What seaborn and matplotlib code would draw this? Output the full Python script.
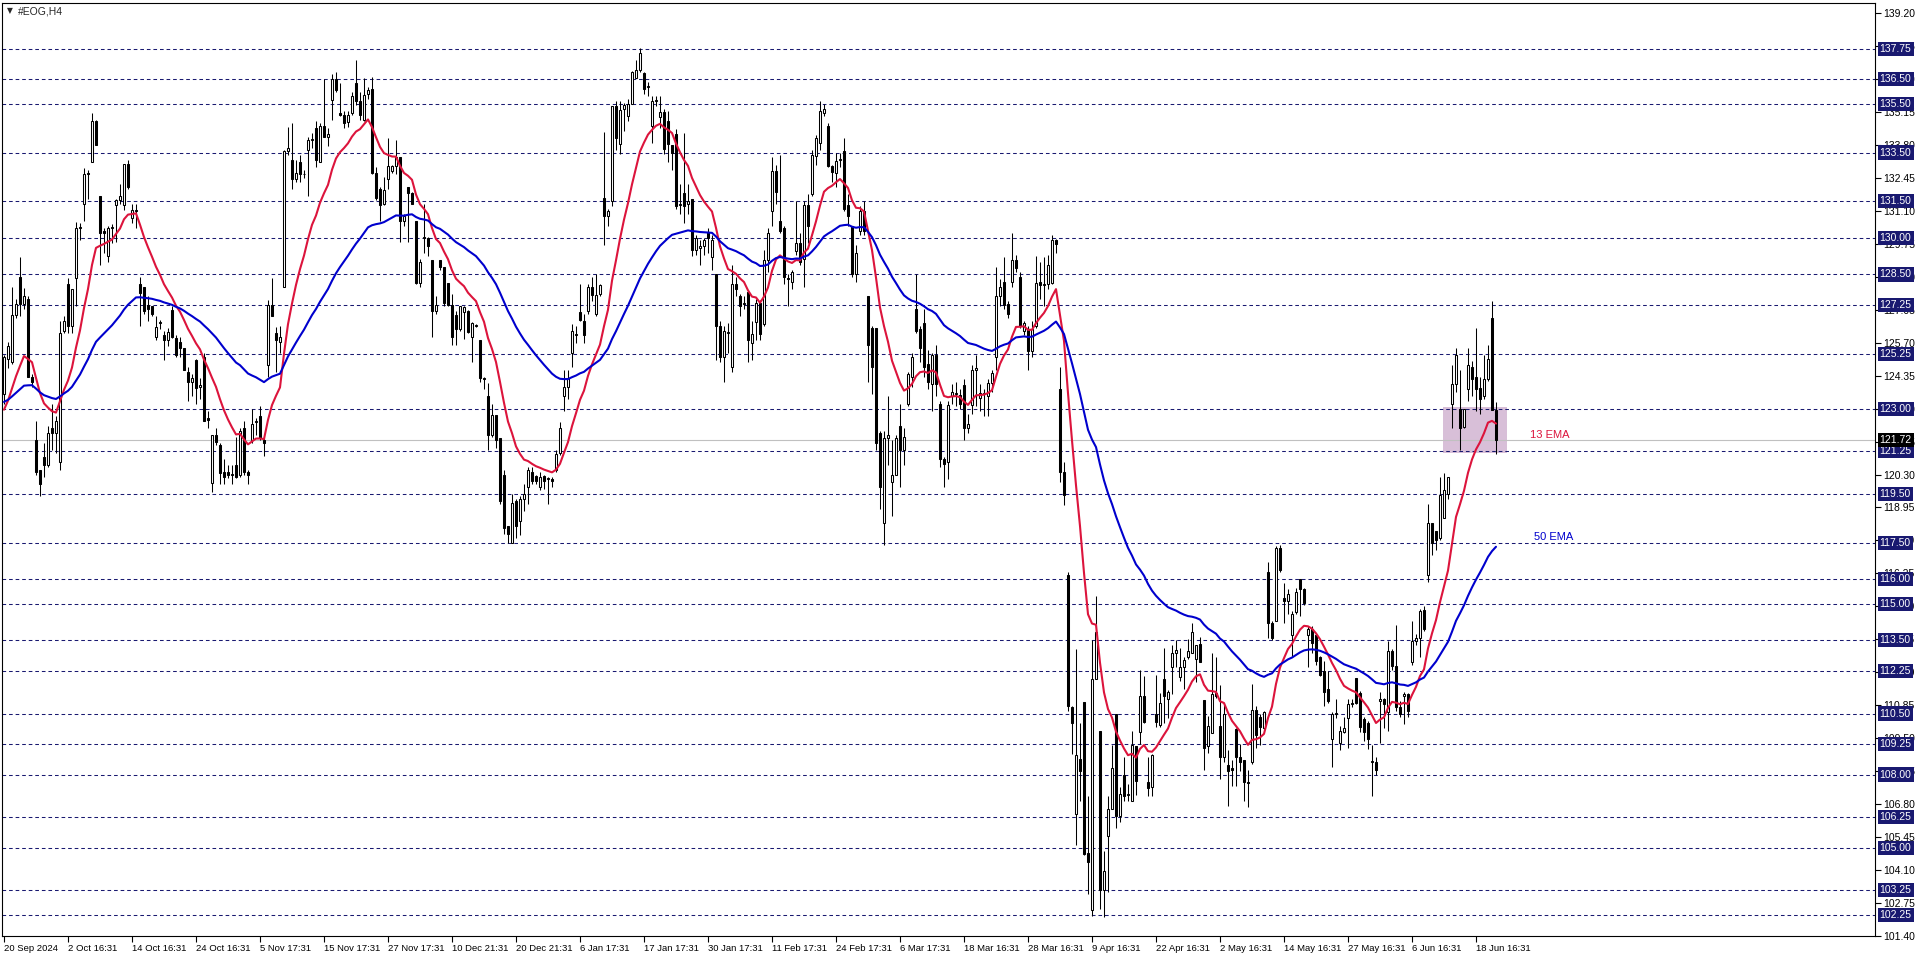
import numpy as np
import pandas as pd
import matplotlib
matplotlib.use("Agg")
import matplotlib.pyplot as plt
from matplotlib.patches import Rectangle
import seaborn as sns

# ==========================================
# DATA: #EOG H4 candles, bar index 0..373
# ==========================================
opens = [
    123.6, 125.05, 124.9, 126.85, 128.4, 127.3, 127.5, 124.3, 121.7, 120.5,
    121.0, 120.7, 122.2, 122.0, 120.8, 126.2, 128.1, 126.4, 128.35, 130.4,
    131.4, 132.65, 133.1, 134.8, 131.7, 130.3, 129.25, 130.4, 131.35, 131.55,
    131.35, 133.05, 130.8, 131.1, 128.1, 128.0, 127.25, 127.2, 125.95, 126.5,
    126.0, 125.8, 127.05, 125.9, 125.75, 125.5, 124.5, 124.1, 125.0, 123.9,
    125.1, 122.6, 119.95, 121.9, 121.5, 120.4, 120.4, 120.3, 120.7, 120.3,
    122.2, 120.4, 121.7, 122.45, 122.7, 121.7, 124.8, 127.25, 126.1, 125.75,
    128.0, 133.55, 133.2, 132.4, 133.1, 132.6, 133.6, 134.0, 134.5, 133.1,
    134.6, 134.15, 135.65, 136.5, 135.1, 135.05, 134.75, 135.1, 136.35, 135.6,
    134.85, 135.9, 136.1, 132.65, 132.0, 131.4, 132.4, 132.75, 132.95, 133.3,
    130.7, 132.1, 131.85, 130.7, 128.15, 130.0, 130.0, 129.1, 127.0, 129.1,
    128.8, 128.15, 127.25, 126.85, 126.25, 126.95, 127.0, 125.95, 126.4, 125.8,
    124.25, 123.5, 121.9, 122.75, 121.8, 120.3, 118.2, 117.5, 119.2, 118.4,
    119.3, 119.8, 120.4, 120.25, 119.8, 120.25, 120.1, 120.1, 120.5, 121.2,
    123.5, 123.9, 125.3, 126.0, 126.95, 126.6, 127.0, 128.0, 126.9, 127.7,
    131.65, 130.9, 131.5, 135.4, 133.85, 135.3, 135.0, 135.5, 136.55, 136.9,
    136.75, 136.2, 134.6, 135.6, 134.95, 135.15, 134.8, 133.8, 134.25, 131.35,
    131.85, 131.4, 131.6, 129.5, 129.6, 129.65, 130.25, 129.2, 128.5, 126.4,
    125.1, 126.1, 124.7, 128.1, 127.6, 127.3, 127.8, 125.7, 126.55, 127.35,
    126.45, 129.1, 131.1, 132.75, 130.7, 130.4, 128.35, 128.2, 129.45, 129.8,
    129.15, 131.35, 131.8, 133.35, 133.9, 135.1, 134.6, 132.95, 132.65, 133.2,
    133.55, 131.35, 130.5, 128.5, 130.3, 131.1, 127.6, 126.3, 126.3, 122.0,
    118.3, 121.8, 120.0, 120.3, 122.3, 121.3, 123.2, 124.3, 127.1, 126.25,
    126.5, 124.85, 124.0, 125.2, 123.2, 120.95, 120.8, 123.5, 123.6, 123.55,
    123.98, 122.2, 123.15, 124.6, 123.45, 123.6, 123.5, 124.05, 125.1, 127.6,
    128.2, 127.3, 128.2, 129.1, 128.4, 126.2, 126.25, 125.35, 126.4, 128.2,
    128.05, 128.1, 128.15, 129.9, 123.8, 120.4, 116.2, 110.75, 106.4, 108.65,
    110.97, 104.8, 102.45, 111.9, 109.8, 103.25, 105.5, 106.6, 110.5, 106.3,
    108.0, 107.15, 106.9, 109.15, 109.75, 111.2, 107.7, 107.5, 110.5, 110.05,
    111.9, 111.1, 112.4, 113.0, 112.0, 112.4, 112.8, 113.0, 112.75, 113.35,
    111.05, 109.15, 109.7, 111.35, 110.0, 108.7, 108.4, 108.25, 109.85, 108.7,
    108.6, 107.7, 108.5, 110.65, 110.35, 109.9, 116.3, 114.2, 114.3, 117.3,
    115.25, 115.1, 113.7, 114.65, 116.0, 115.6, 113.7, 113.95, 113.7, 112.8,
    112.25, 111.5, 109.45, 110.5, 109.3, 109.75, 110.3, 110.9, 111.97, 111.36,
    110.27, 110.13, 108.5, 108.5, 111.0, 111.1, 110.55, 113.06, 112.45, 110.75,
    111.2, 111.3, 112.6, 113.47, 113.6, 114.76, 116.2, 118.3, 117.97, 117.7,
    118.5, 119.5, 123.2, 124.0, 123.0, 122.25, 123.8, 124.7, 124.3, 123.84,
    123.5, 124.2, 126.7, 122.93,
]
highs = [
    125.2, 125.75, 128.0, 127.5, 129.2, 127.95, 127.6, 124.4, 122.5, 120.5,
    121.6, 122.3, 123.2, 122.7, 126.6, 126.8, 128.35, 127.9, 130.65, 130.6,
    132.85, 132.8, 135.1, 134.85, 131.7, 130.4, 130.5, 130.55, 131.6, 132.2,
    133.05, 133.2, 131.4, 131.4, 128.4, 128.0, 127.6, 127.2, 126.8, 126.65,
    126.2, 126.3, 127.2, 126.0, 125.95, 125.5, 124.7, 124.4, 125.05, 124.25,
    125.3, 122.9, 121.9, 122.2, 121.6, 120.95, 120.7, 120.7, 121.85, 122.2,
    122.5, 120.5, 123.0, 122.6, 123.1, 121.85, 127.45, 128.35, 126.35, 126.4,
    133.6, 134.55, 134.7, 133.2, 133.4, 132.8, 134.15, 134.3, 134.8, 134.7,
    136.5, 134.5, 136.7, 136.8, 136.35, 135.2, 135.2, 136.0, 137.3, 136.0,
    136.55, 136.2, 136.6, 132.9, 132.1, 132.5, 134.1, 133.0, 134.0, 133.3,
    131.0, 132.1, 131.9, 130.7, 129.15, 131.4, 130.05, 129.1, 127.6, 129.1,
    128.8, 128.15, 127.7, 127.0, 127.2, 127.2, 127.05, 126.55, 126.45, 125.8,
    124.3, 124.05, 123.2, 122.75, 121.8, 120.5, 118.2, 119.5, 119.3, 119.4,
    119.9, 120.6, 120.6, 120.3, 120.4, 120.3, 120.2, 120.2, 121.3, 122.45,
    124.6, 124.6, 126.45, 126.4, 128.1, 126.9, 128.1, 128.4, 128.5, 128.1,
    134.35, 131.2, 135.4, 135.6, 135.6, 135.55, 135.7, 136.85, 137.3, 137.8,
    136.8, 136.4, 135.8, 135.8, 135.8, 135.3, 135.2, 133.8, 134.45, 132.2,
    134.3, 132.2, 131.6, 130.1, 129.9, 130.0, 130.4, 130.1, 128.5, 126.6,
    126.4, 126.5, 128.9, 128.4, 127.7, 127.6, 127.8, 126.6, 127.5, 127.45,
    129.5, 130.4, 133.3, 133.0, 133.4, 130.5, 128.5, 128.7, 131.5, 130.2,
    131.5, 131.8, 133.6, 134.2, 135.6, 135.5, 134.7, 133.0, 133.5, 133.5,
    134.1, 131.8, 130.5, 129.7, 131.3, 131.5, 127.6, 126.4, 126.3, 122.1,
    122.1, 123.5, 121.7, 121.9, 123.2, 122.2, 124.5, 125.3, 128.5, 126.4,
    127.1, 125.4, 125.3, 125.6, 123.3, 121.0, 123.3, 124.0, 124.1, 123.8,
    124.2, 122.8, 124.8, 125.2, 124.0, 123.8, 124.2, 124.6, 128.8, 128.3,
    129.2, 127.4, 130.2, 129.3, 128.6, 126.6, 126.4, 126.6, 129.25, 129.0,
    129.2, 129.3, 130.1, 129.95, 124.7, 120.8, 116.3, 110.8, 113.15, 110.1,
    110.97, 107.1, 113.5, 115.3, 109.8, 104.85, 107.1, 109.2, 110.5, 107.5,
    108.7, 107.6, 109.8, 109.15, 112.3, 112.05, 108.7, 108.85, 112.1, 111.35,
    113.2, 111.45, 113.3, 113.5, 113.2, 112.8, 113.55, 114.2, 113.3, 113.65,
    111.05, 110.4, 113.0, 112.8, 111.65, 110.95, 109.0, 108.6, 109.9, 109.25,
    108.6, 108.2, 111.7, 110.8, 110.5, 110.6, 116.7, 114.3, 117.35, 117.4,
    115.85, 115.6, 114.7, 115.65, 116.0, 115.65, 114.1, 114.1, 113.75, 112.85,
    112.65, 112.25, 110.55, 111.1, 110.0, 110.35, 111.1, 111.1, 111.97, 111.43,
    110.34, 110.2, 109.2, 108.7, 111.4, 111.15, 113.47, 113.13, 114.15, 111.0,
    111.4, 111.35, 114.3, 113.75, 114.8, 114.9, 119.1, 118.3, 118.0, 120.2,
    120.35, 120.2, 124.77, 125.5, 124.6, 123.0, 125.5, 124.97, 126.3, 124.3,
    125.2, 125.6, 127.4, 123.27,
]
lows = [
    123.2, 124.65, 124.85, 126.7, 126.8, 127.1, 124.3, 123.9, 120.3, 119.4,
    120.2, 120.6, 121.3, 121.2, 120.5, 126.1, 126.1, 126.1, 127.2, 129.9,
    130.7, 131.6, 133.1, 133.8, 128.9, 129.4, 129.0, 129.8, 129.85, 131.4,
    131.15, 132.0, 130.6, 130.4, 126.4, 126.9, 126.6, 126.8, 125.8, 126.25,
    125.0, 125.55, 125.9, 125.1, 125.1, 124.6, 123.3, 123.5, 123.2, 123.4,
    122.5, 122.2, 119.6, 121.5, 119.9, 119.9, 120.15, 119.9, 120.15, 120.2,
    120.3, 119.9, 121.6, 121.9, 121.7, 121.05, 124.3, 126.8, 124.5, 125.3,
    128.0, 133.4, 132.0, 132.3, 132.3, 132.45, 131.7, 133.7, 132.9, 133.1,
    134.15, 133.75, 134.85, 136.0, 135.0, 134.5, 134.55, 135.05, 135.45, 134.85,
    134.8, 135.7, 132.6, 131.55, 130.7, 131.35, 132.0, 132.65, 132.6, 129.85,
    130.5, 129.85, 131.4, 128.1, 128.0, 129.4, 129.25, 125.95, 126.9, 128.7,
    127.2, 127.2, 125.6, 125.6, 126.2, 125.85, 126.1, 124.9, 126.35, 124.1,
    123.8, 121.3, 121.85, 121.4, 119.1, 117.85, 117.5, 117.5, 117.7, 117.8,
    118.8, 119.1, 119.9, 119.9, 119.65, 119.7, 119.1, 119.8, 120.4, 121.1,
    122.9, 123.4, 124.7, 125.7, 126.6, 125.7, 126.9, 127.4, 126.8, 127.6,
    129.7, 130.5, 131.3, 133.6, 133.45, 134.4, 134.8, 135.5, 136.55, 136.8,
    135.9, 135.8, 133.9, 135.4, 134.5, 133.45, 133.1, 132.8, 131.2, 131.0,
    130.6, 131.0, 129.25, 129.3, 128.9, 129.3, 129.4, 128.7, 125.0, 124.9,
    124.1, 125.3, 124.5, 127.6, 126.8, 127.1, 124.9, 125.0, 125.8, 125.8,
    126.4, 128.6, 130.5, 131.4, 130.2, 128.1, 127.2, 127.9, 129.3, 128.9,
    128.0, 129.8, 131.7, 133.0, 133.6, 135.0, 132.9, 132.3, 132.1, 132.9,
    131.1, 130.5, 128.4, 128.2, 130.1, 130.1, 124.1, 123.6, 121.3, 118.9,
    117.4, 120.7, 118.6, 120.3, 119.8, 120.7, 123.1, 123.9, 126.1, 124.9,
    124.3, 123.8, 122.9, 123.5, 120.6, 119.8, 120.1, 123.2, 123.1, 123.0,
    121.7, 122.0, 122.8, 123.1, 122.9, 122.7, 122.7, 123.7, 124.6, 127.2,
    127.1, 126.7, 128.0, 128.6, 126.3, 126.0, 124.6, 125.1, 126.3, 127.5,
    127.2, 127.9, 128.1, 129.4, 120.0, 119.05, 110.6, 108.85, 105.1, 106.9,
    104.7, 103.1, 102.2, 111.9, 102.5, 102.15, 103.2, 106.6, 105.8, 106.05,
    106.9, 106.9, 106.9, 107.15, 109.25, 110.1, 107.1, 107.1, 109.95, 109.95,
    110.1, 110.3, 111.3, 112.4, 111.85, 111.5, 112.75, 113.0, 111.8, 112.6,
    108.2, 108.9, 109.7, 111.15, 107.8, 108.5, 106.7, 107.55, 107.55, 108.15,
    106.9, 106.65, 108.45, 109.1, 109.2, 109.8, 113.6, 113.5, 114.3, 116.3,
    114.2, 114.6, 112.8, 114.6, 114.5, 114.95, 112.4, 113.0, 112.5, 112.05,
    110.8, 110.95, 108.3, 110.3, 109.0, 109.7, 109.1, 110.75, 110.9, 109.73,
    109.39, 109.05, 107.1, 108.0, 109.3, 109.9, 109.8, 112.3, 110.6, 110.35,
    110.07, 110.35, 112.5, 113.33, 112.8, 113.9, 115.9, 117.0, 117.2, 117.6,
    118.5, 119.3, 122.2, 123.7, 121.3, 122.2, 123.3, 123.5, 122.9, 122.8,
    123.4, 124.15, 122.93, 121.12,
]
closes = [
    125.1, 125.55, 126.85, 127.3, 127.3, 127.6, 124.3, 124.1, 120.4, 119.9,
    120.7, 122.0, 122.0, 122.5, 126.1, 126.6, 126.4, 127.9, 130.4, 130.45,
    132.6, 132.6, 134.8, 133.8, 130.2, 130.2, 130.4, 130.45, 131.55, 131.7,
    133.05, 132.1, 131.15, 131.15, 127.75, 127.0, 127.1, 126.9, 126.35, 126.5,
    125.8, 126.15, 125.95, 125.2, 125.5, 124.6, 124.1, 124.25, 123.85, 123.95,
    122.5, 122.55, 121.9, 121.65, 120.35, 120.2, 120.3, 120.3, 120.2, 122.1,
    120.4, 120.3, 122.35, 122.5, 121.8, 121.6, 127.25, 126.8, 125.8, 125.95,
    133.55, 133.7, 132.4, 132.65, 132.6, 132.6, 134.0, 134.05, 133.2, 134.6,
    134.15, 134.25, 136.5, 136.05, 135.05, 134.7, 135.05, 135.8, 135.6, 135.05,
    135.85, 136.05, 132.65, 131.65, 131.35, 131.95, 132.95, 132.95, 133.3, 130.7,
    130.9, 131.85, 131.4, 128.15, 129.0, 130.05, 129.65, 127.0, 127.25, 128.8,
    127.35, 127.25, 125.95, 126.25, 127.2, 127.15, 126.15, 126.5, 126.4, 124.25,
    124.2, 121.9, 122.75, 121.7, 119.2, 118.1, 117.85, 119.15, 118.2, 119.3,
    119.5, 120.5, 120.05, 120.05, 120.2, 120.05, 120.1, 120.05, 121.15, 122.2,
    123.9, 124.25, 126.2, 126.0, 126.65, 126.0, 127.98, 127.65, 127.65, 128.05,
    130.9, 131.1, 135.4, 134.1, 135.25, 135.45, 135.5, 136.8, 136.9, 137.6,
    136.1, 136.2, 135.6, 135.6, 135.15, 133.65, 133.85, 133.5, 131.3, 131.35,
    131.3, 131.5, 129.5, 130.0, 129.65, 129.9, 130.0, 129.9, 126.4, 125.1,
    126.2, 126.1, 128.1, 127.9, 127.2, 127.3, 125.8, 126.05, 127.35, 126.05,
    129.1, 130.2, 132.75, 131.9, 130.3, 128.4, 128.3, 128.6, 129.8, 129.0,
    131.35, 130.5, 133.4, 134.1, 135.2, 135.3, 132.95, 132.7, 133.15, 133.2,
    131.2, 130.9, 128.5, 129.4, 131.1, 130.3, 125.6, 124.7, 121.6, 119.8,
    121.8, 121.9, 120.3, 121.8, 121.3, 121.85, 124.4, 125.1, 126.2, 125.5,
    124.7, 124.1, 125.2, 124.0, 120.95, 120.75, 123.15, 123.7, 123.6, 123.2,
    122.2, 122.35, 124.6, 124.65, 123.65, 123.65, 124.05, 124.45, 127.6, 128.0,
    127.25, 126.9, 129.1, 128.75, 126.4, 126.5, 125.35, 126.25, 128.15, 128.05,
    128.1, 128.9, 129.9, 129.75, 120.4, 119.45, 110.8, 110.1, 108.8, 108.15,
    104.75, 104.4, 111.9, 113.85, 103.25, 104.05, 106.6, 108.25, 106.3, 107.2,
    107.1, 107.15, 109.2, 107.75, 111.2, 110.15, 107.45, 108.8, 110.15, 110.95,
    111.2, 111.4, 113.0, 113.1, 112.4, 112.7, 113.05, 113.85, 113.3, 112.6,
    109.1, 110.0, 111.3, 111.2, 108.7, 110.5, 108.15, 108.2, 108.7, 108.5,
    107.7, 107.65, 110.65, 109.6, 109.95, 110.55, 114.2, 113.6, 117.3, 116.4,
    115.1, 115.4, 114.6, 115.5, 115.6, 115.05, 113.95, 113.4, 112.65, 112.1,
    111.4, 111.0, 110.5, 110.5, 109.8, 109.9, 110.9, 110.9, 110.95, 109.93,
    109.73, 109.45, 108.55, 108.2, 111.1, 110.9, 113.06, 112.45, 110.75, 110.5,
    111.3, 110.6, 113.47, 113.6, 114.7, 113.95, 118.3, 117.5, 117.6, 119.46,
    119.66, 120.2, 124.0, 125.2, 122.2, 122.97, 124.77, 124.2, 123.8, 123.4,
    124.2, 125.04, 122.93, 121.72,
]

# EMA values just before the first visible bar
ema13_seed = 122.6
ema50_seed = 123.2

# time axis labels (one every 16 bars)
date_labels = ["20 Sep 2024", "2 Oct 16:31", "14 Oct 16:31", "24 Oct 16:31",
               "5 Nov 17:31", "15 Nov 17:31", "27 Nov 17:31", "10 Dec 21:31",
               "20 Dec 21:31", "6 Jan 17:31", "17 Jan 17:31", "30 Jan 17:31",
               "11 Feb 17:31", "24 Feb 17:31", "6 Mar 17:31", "18 Mar 16:31",
               "28 Mar 16:31", "9 Apr 16:31", "22 Apr 16:31", "2 May 16:31",
               "14 May 16:31", "27 May 16:31", "6 Jun 16:31", "18 Jun 16:31"]
label_every = 16

# horizontal support/resistance levels
levels = [137.75, 136.50, 135.50, 133.50, 131.50, 130.00, 128.50, 127.25,
          125.25, 123.00, 121.25, 119.50, 117.50, 116.00, 115.00, 113.50,
          112.25, 110.50, 109.25, 108.00, 106.25, 105.00, 103.25, 102.25]
last_price = 121.72

# price scale ticks
price_ticks = [101.40, 102.75, 104.10, 105.45, 106.80, 108.15, 109.50, 110.85,
               112.20, 113.55, 114.90, 116.25, 117.60, 118.95, 120.30, 121.65,
               123.00, 124.35, 125.70, 127.05, 128.40, 129.75, 131.10, 132.45,
               133.80, 135.15, 136.50, 137.85, 139.20]

# shaded zone
zone_bars = (359.8, 375.7)
zone_prices = (121.2, 123.05)

# ==========================================
# PREP
# ==========================================
df = pd.DataFrame({'o': opens, 'h': highs, 'l': lows, 'c': closes})
df['bar'] = np.arange(len(df))


def ema(seed, span):
    s = pd.concat([pd.Series([seed]), df['c']], ignore_index=True)
    return s.ewm(span=span, adjust=False).mean().iloc[1:].values


df['ema13'] = ema(ema13_seed, 13)
df['ema50'] = ema(ema50_seed, 50)

navy = '#191970'
red = '#dc143c'
blue = '#0000cd'

sns.set_theme(style="white")
plt.rcParams['font.family'] = ['Liberation Sans', 'DejaVu Sans']

W, H = 1916, 963
fig = plt.figure(figsize=(W / 100, H / 100), dpi=100)
ax = fig.add_axes([2 / W, 27 / H, 1873 / W, 933 / H])

# zone
ax.add_patch(Rectangle((zone_bars[0], zone_prices[0]), zone_bars[1] - zone_bars[0],
                       zone_prices[1] - zone_prices[0], fc='#d8bfd8', ec='none', zorder=1))

# levels
for p in levels:
    ax.axhline(p, color=navy, lw=0.75, ls=(0, (3.5, 2.8)), zorder=1.6)
ax.axhline(last_price, color='#c0c0c0', lw=0.8, zorder=1.7)

# candles
up = df['c'] >= df['o']
body_lo = np.minimum(df['o'], df['c'])
body_h = np.maximum((df['c'] - df['o']).abs(), 0.04)
ax.vlines(df['bar'], df['l'], df['h'], color='black', lw=0.75, zorder=3)
ax.bar(df['bar'][up], body_h[up], bottom=body_lo[up], width=0.5,
       color='white', edgecolor='black', linewidth=0.75, zorder=4)
ax.bar(df['bar'][~up], body_h[~up], bottom=body_lo[~up], width=0.5,
       color='black', edgecolor='black', linewidth=0.75, zorder=4)

# EMAs
sns.lineplot(data=df, x='bar', y='ema13', color=red, lw=1.5, ax=ax, zorder=5)
sns.lineplot(data=df, x='bar', y='ema50', color=blue, lw=1.5, ax=ax, zorder=5)
ax.text(381.5, 121.9, '13 EMA', color=red, fontsize=8, va='center', zorder=6)
ax.text(382.5, 117.75, '50 EMA', color=blue, fontsize=8, va='center', zorder=6)

# axes
ax.set_xlim(-0.5, 467.75)
ax.set_ylim(101.38, 139.63)
ax.set_xlabel('')
ax.set_ylabel('')

ax.yaxis.tick_right()
ax.set_yticks(price_ticks)
ax.set_yticklabels([f"{v:.2f}" for v in price_ticks])
ax.tick_params(axis='y', direction='out', length=4, width=0.8, pad=2,
               labelsize=7.5, colors='black', right=True, left=False)

xt = [i * label_every for i in range(len(date_labels))]
ax.set_xticks(xt)
ax.set_xticklabels(date_labels)
ax.tick_params(axis='x', direction='out', length=4, width=0.8, pad=1.5,
               labelsize=6.8, colors='black', bottom=True)
for lbl in ax.get_xticklabels():
    lbl.set_horizontalalignment('left')

for sp in ax.spines.values():
    sp.set_color('black')
    sp.set_linewidth(0.8)

ytr = ax.get_yaxis_transform()
for p in levels:
    ax.text(1.0025, p, f"{p:.2f}", transform=ytr, va='center', ha='left',
            fontsize=7.5, color='white', zorder=10, clip_on=False,
            bbox=dict(boxstyle='square,pad=0.2', fc=navy, ec='none'))
ax.text(1.0025, last_price, f"{last_price:.2f}", transform=ytr, va='center', ha='left',
        fontsize=7.5, color='white', zorder=11, clip_on=False,
        bbox=dict(boxstyle='square,pad=0.2', fc='black', ec='none'))

# symbol caption
fig.text(7 / W, 1 - 11 / H, '\u25BC', fontsize=5.5, va='center', ha='left',
         family='DejaVu Sans')
fig.text(18 / W, 1 - 11 / H, '#EOG,H4', fontsize=7.5, va='center', ha='left')

fig.savefig('out.png', dpi=100, facecolor='white')
